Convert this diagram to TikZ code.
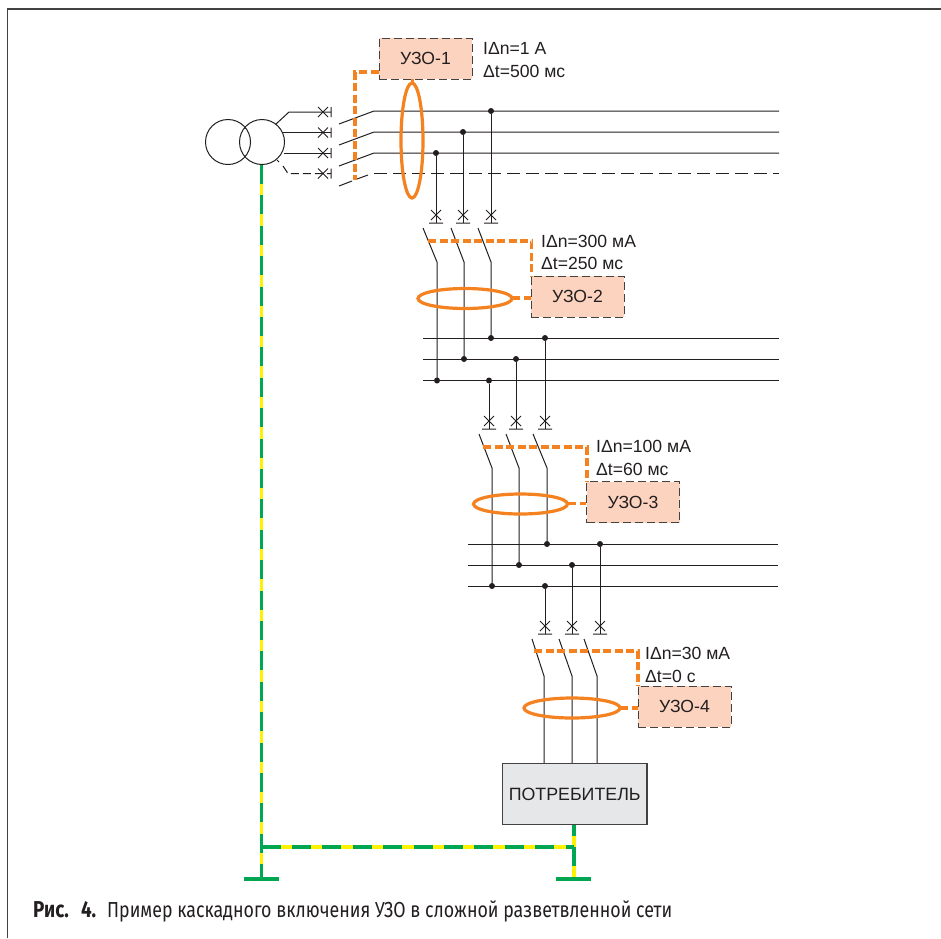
\documentclass[tikz,border=0pt]{standalone}
\usepackage{fontspec}
\setmainfont{Liberation Sans}
\newfontfamily\capfont[FakeStretch=0.82]{Fira Sans}
\definecolor{uzo}{HTML}{FBD3BF}
\definecolor{ora}{HTML}{F58220}
\definecolor{wire}{HTML}{231F20}
\definecolor{pegreen}{HTML}{00A651}
\definecolor{peyel}{HTML}{FFF200}
\definecolor{gry}{HTML}{E6E7E8}
\tikzset{
 x=1pt,y=-1pt,
 wireline/.style={draw=wire,line width=1pt},
 nline/.style={draw=wire,line width=1pt,dash pattern=on 13pt off 6pt},
 uzobox/.style={draw=wire!85,fill=uzo,line width=1pt,dash pattern=on 8pt off 4pt,minimum width=93pt,minimum height=41pt,inner sep=0pt,font=\fontsize{17.6}{20}\selectfont,text=wire},
 ctlwire/.style={draw=ora,line width=3.3pt,dash pattern=on 8pt off 3.5pt},
 toro/.style={draw=ora,line width=3.2pt},
 junc/.style={circle,fill=wire,inner sep=0pt,minimum size=6pt},
 lbl/.style={anchor=west,inner sep=0pt,font=\fontsize{17.6}{20}\selectfont,text=wire},
 peyellow/.style={draw=peyel,line width=3.8pt},
 pegr/.style={draw=pegreen,line width=3.8pt,dash pattern=on 19pt off 11.4pt},
 gnd/.style={draw=pegreen,line width=3.2pt},
}
% horizontal breaker: cross at x, bar to the right
\newcommand{\brkH}[2]{\draw[wireline] (#1-5,#2-5)--(#1+5,#2+5) (#1-5,#2+5)--(#1+5,#2-5) (#1+8,#2-5)--(#1+8,#2+5);}
% vertical breaker: cross at y, bar below
\newcommand{\brkV}[2]{\draw[wireline] (#1-5,#2-5)--(#1+5,#2+5) (#1-5,#2+5)--(#1+5,#2-5) (#1-7,#2+8)--(#1+7,#2+8);}
\begin{document}
\begin{tikzpicture}
\useasboundingbox (0,0) rectangle (941,938);
\fill[white] (0,0) rectangle (941,938);
% frame
\draw[draw=wire!85,line width=1.6pt] (7.5,938)--(7.5,9)--(941,9);
% PE conductors
\coordinate (peTop) at (261.5,165);
\coordinate (peCorner) at (261.5,847);
\coordinate (peEnd) at (261.5,879);
\coordinate (peR) at (574,847);
\coordinate (peRTop) at (574,825);
\coordinate (peREnd) at (574,879);
\draw[peyellow] (peTop)--(peEnd) (peCorner)--(peR) (peRTop)--(peREnd);
\draw[pegr] (peTop)--(peEnd);
\draw[pegr] (peCorner)--(peR);
\draw[pegr,dash phase=8pt] (peRTop)--(peREnd);
\coordinate (gL1) at (244,879); \coordinate (gL2) at (279,879);
\coordinate (gR1) at (556,879); \coordinate (gR2) at (591,879);
\draw[gnd] (gL1)--(gL2);
\draw[gnd] (gR1)--(gR2);
% transformer
\node[circle,draw=wire,line width=1pt,minimum size=45pt,inner sep=0pt] (t1) at (228,142) {};
\node[circle,draw=wire,line width=1pt,minimum size=45pt,inner sep=0pt] (t2) at (262,142) {};
% stage 1 feeders
\draw[wireline] (276,124)--(289,112)--(331,112);
\draw[wireline] (283,132.5)--(331,132.5);
\draw[wireline] (284,153)--(331,153);
\draw[wireline] (277,160)--(279,162);
\draw[wireline,dash pattern=on 8pt off 4pt] (283,166)--(288,173.5)--(331,173.5);
\brkH{323}{112}\brkH{323}{132.5}\brkH{323}{153}\brkH{323}{173.5}
% main bus
\draw[wireline] (339,124)--(374,111)--(779,111);
\draw[wireline] (339,145)--(374,132)--(779,132);
\draw[wireline] (339,166)--(374,153)--(779,153);
\draw[wireline] (339,186)--(352,181);
\draw[wireline] (357,179)--(368,175);
\draw[nline] (374,173.5)--(779,173.5);
\node[junc] (j1a) at (491,111) {};
\node[junc] (j1b) at (463,132) {};
\node[junc] (j1c) at (436,153) {};
\draw[wireline] (j1a)--(491,223) (j1b)--(463,223) (j1c)--(436,223);
\brkV{491}{215}\brkV{463}{215}\brkV{436}{215}
% UZO-1
\node[uzobox] (u1) at (425.5,58.5) {УЗО-1};
\node[lbl] (l1a) at (483,48) {IΔn=1 А};
\node[lbl] (l1b) at (483,71) {Δt=500 мс};
\draw[ctlwire] (u1.west|-0,72)--(355,72)--(355,180);
\draw[toro] (412,140.5) ellipse (11 and 57.5);
\draw[draw=ora,line width=3pt] (412,79)--(412,84);
% stage 2
\draw[wireline] (423,228)--(437,262)--(437,380.5);
\draw[wireline] (451,228)--(464,262)--(464,359);
\draw[wireline] (478,228)--(491,262)--(491,338);
\node[uzobox] (u2) at (577.5,296.5) {УЗО-2};
\node[lbl] (l2a) at (541,241) {IΔn=300 мА};
\node[lbl] (l2b) at (541,263.5) {Δt=250 мс};
\draw[ctlwire] (428,241)--(531.5,241)--(531.5,276);
\draw[toro] (465,298.5) ellipse (47 and 10);
\draw[ctlwire] (512,298)--(u2.west|-0,298);
\draw[wireline] (423,338)--(779,338) (423,359)--(779,359) (423,380.5)--(779,380.5);
\node[junc] at (491,338) {};
\node[junc] (j2a) at (545,338) {};
\node[junc] (j2b) at (516,359) {};
\node[junc] at (464,359) {};
\node[junc] at (437,380.5) {};
\node[junc] (j2c) at (489,380.5) {};
\draw[wireline] (j2a)--(545,429) (j2b)--(516,429) (j2c)--(489,429);
\brkV{489}{421}\brkV{516}{421}\brkV{545}{421}
% stage 3
\draw[wireline] (479,434)--(492,468)--(492,586);
\draw[wireline] (506,434)--(519,468)--(519,565);
\draw[wireline] (533,434)--(547,468)--(547,544);
\node[uzobox] (u3) at (633,502) {УЗО-3};
\node[lbl] (l3a) at (596,446) {IΔn=100 мА};
\node[lbl] (l3b) at (596,469) {Δt=60 мс};
\draw[ctlwire] (483,447)--(587,447)--(587,482);
\draw[toro] (520.5,504) ellipse (47 and 10);
\draw[ctlwire] (568,503.5)--(u3.west|-0,503.5);
\draw[wireline] (468,544)--(778,544) (468,565)--(778,565) (468,586)--(778,586);
\node[junc] at (547,544) {};
\node[junc] (j3a) at (600,544) {};
\node[junc] at (519,565) {};
\node[junc] (j3b) at (572,565) {};
\node[junc] at (492,586) {};
\node[junc] (j3c) at (545,586) {};
\draw[wireline] (j3a)--(600,634) (j3b)--(572,634) (j3c)--(545,634);
\brkV{545}{626}\brkV{572}{626}\brkV{600}{626}
% stage 4
\node[draw=wire!85,fill=gry,line width=1.2pt,minimum width=144.5pt,minimum height=61.5pt,inner sep=0pt,font=\fontsize{17.8}{20}\selectfont,text=wire] (load) at (574.7,794) {ПОТРЕБИТЕЛЬ};
\draw[wireline] (532,639)--(544,676)--(544,763);
\draw[wireline] (559,639)--(572,676)--(572,763);
\draw[wireline] (584,639)--(597,676)--(597,763);
\node[uzobox] (u4) at (684.5,706.5) {УЗО-4};
\node[lbl] (l4a) at (645,653) {IΔn=30 мА};
\node[lbl] (l4b) at (645,676) {Δt=0 с};
\draw[ctlwire] (534,651)--(638,651)--(638,686);
\draw[toro] (572,708) ellipse (48 and 10);
\draw[ctlwire] (620,708)--(u4.west|-0,708);
% caption
\node[anchor=base west,inner sep=0pt,text=wire,font=\capfont\fontsize{23}{25}\selectfont] (capa) at (33,917) {\textbf{Рис.\hspace{12pt}4.}};
\node[anchor=base west,inner sep=0pt,text=wire,font=\capfont\fontsize{21.7}{24}\selectfont] (capb) at (107,917) {Пример каскадного включения УЗО в сложной разветвленной сети};
\end{tikzpicture}
\end{document}
